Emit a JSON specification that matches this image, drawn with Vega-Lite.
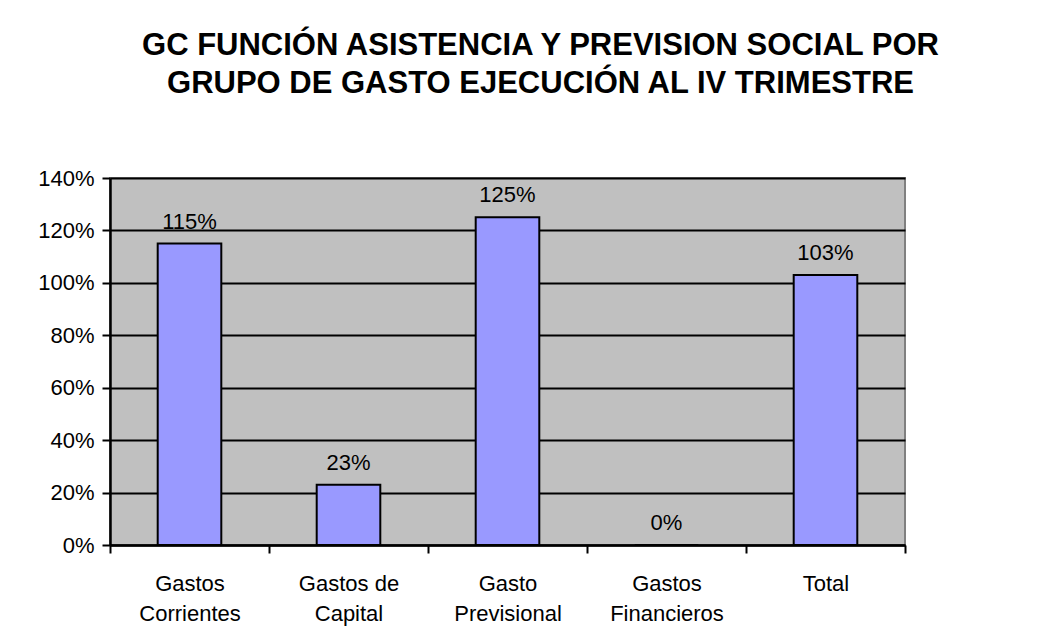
{
  "$schema": "https://vega.github.io/schema/vega-lite/v6.json",
  "autosize": {"type": "none"},
  "width": 795,
  "height": 367,
  "padding": {"left": 110, "top": 178, "right": 139, "bottom": 94},
  "background": "white",
  "title": {
    "text": ["GC FUNCIÓN ASISTENCIA Y PREVISION SOCIAL POR", "GRUPO DE GASTO EJECUCIÓN AL IV TRIMESTRE"],
    "font": "Liberation Sans",
    "fontSize": 31,
    "fontWeight": "bold",
    "color": "black",
    "lineHeight": 38,
    "anchor": "middle",
    "frame": "group",
    "dx": 33,
    "offset": 67
  },
  "data": {
    "values": [
      {"grupo": "Gastos Corrientes", "valor": 1.15},
      {"grupo": "Gastos de Capital", "valor": 0.23},
      {"grupo": "Gasto Previsional", "valor": 1.25},
      {"grupo": "Gastos Financieros", "valor": 0.0},
      {"grupo": "Total", "valor": 1.03}
    ]
  },
  "encoding": {
    "x": {
      "field": "grupo",
      "type": "nominal",
      "sort": null,
      "scale": {"paddingInner": 0, "paddingOuter": 0},
      "axis": {
        "title": null,
        "labelAngle": 0,
        "labelFont": "Liberation Sans",
        "labelFontSize": 22,
        "labelColor": "black",
        "labelLineHeight": 30,
        "labelPadding": 20,
        "labelExpr": "lastindexof(datum.label, ' ') > 0 ? [substring(datum.label, 0, lastindexof(datum.label, ' ')), substring(datum.label, lastindexof(datum.label, ' ') + 1)] : datum.label",
        "tickBand": "extent",
        "tickSize": 8,
        "tickColor": "black",
        "tickWidth": 2,
        "domainColor": "black",
        "domainWidth": 2.5,
        "grid": false
      }
    },
    "y": {
      "field": "valor",
      "type": "quantitative",
      "scale": {"domain": [0, 1.4], "nice": false},
      "axis": {
        "title": null,
        "values": [0, 0.2, 0.4, 0.6, 0.8, 1.0, 1.2, 1.4],
        "format": ".0%",
        "labelFont": "Liberation Sans",
        "labelFontSize": 22,
        "labelColor": "black",
        "labelPadding": 8,
        "tickSize": 8,
        "tickColor": "black",
        "tickWidth": 2,
        "domainColor": "black",
        "domainWidth": 2.5,
        "grid": true,
        "gridColor": "black",
        "gridWidth": 2,
        "gridOpacity": 1
      }
    }
  },
  "layer": [
    {
      "mark": {"type": "bar", "color": "#9999FF", "stroke": "black", "strokeWidth": 2, "width": {"band": 0.4}}
    },
    {
      "mark": {
        "type": "text",
        "font": "Liberation Sans",
        "fontSize": 22,
        "color": "black",
        "baseline": "alphabetic",
        "dy": -15
      },
      "encoding": {
        "text": {"field": "valor", "type": "quantitative", "format": ".0%"}
      }
    }
  ],
  "config": {
    "view": {"fill": "#C0C0C0", "stroke": "#808080", "strokeWidth": 2}
  }
}
